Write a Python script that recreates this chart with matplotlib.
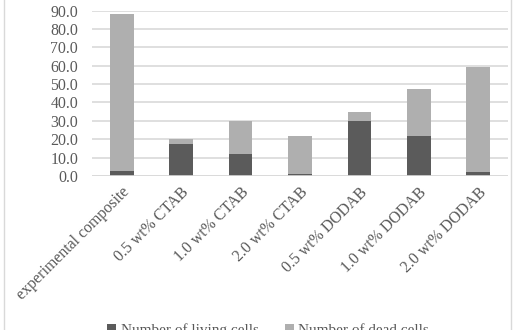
import matplotlib
matplotlib.use("Agg")
import matplotlib.pyplot as plt
import numpy as np
from matplotlib.lines import Line2D

# cell counts per sample
samples = ["experimental composite", "0.5 wt% CTAB", "1.0 wt% CTAB", "2.0 wt% CTAB",
           "0.5 wt% DODAB", "1.0 wt% DODAB", "2.0 wt% DODAB"]
living = [2.8, 17.5, 12.0, 1.0, 30.0, 22.0, 1.9]
dead = [85.6, 2.6, 18.0, 20.5, 5.0, 25.4, 57.6]

dark = "#5b5b5b"
light = "#afafaf"
txt = "#595959"
fs = 11.4

plt.rcParams["font.family"] = ["Liberation Serif", "DejaVu Serif"]

fig = plt.figure(figsize=(5.3, 3.3), dpi=100)
ax = fig.add_axes([0.1736, 0.4667, 0.785, 0.5013])

x = np.arange(len(samples))
ax.bar(x, living, width=0.4, color=dark, label="Number of living cells", zorder=3)
ax.bar(x, dead, width=0.4, bottom=living, color=light, label="Number of dead cells", zorder=3)

ax.set_xlim(-0.5, len(samples) - 0.5)
ax.set_ylim(0, 90)
ax.set_yticks(np.arange(0, 91, 10))
ax.set_yticklabels(["%.1f" % v for v in np.arange(0, 91, 10)], fontsize=fs, color=txt)
ax.set_xticks(x)
ax.set_xticklabels(samples, rotation=45, ha="right", rotation_mode="anchor",
                   fontsize=fs, color=txt)
ax.tick_params(axis="y", length=0, pad=10)
ax.tick_params(axis="x", length=0, pad=6)
ax.yaxis.grid(True, color="#d9d9d9", linewidth=1.2, zorder=0)
for s in ax.spines.values():
    s.set_visible(False)
ax.axhline(0, color="#d9d9d9", linewidth=1.2, zorder=4)

# outer chart frame
fig.add_artist(Line2D([0.008, 0.008], [0, 1], transform=fig.transFigure, color="#d9d9d9", lw=1))
fig.add_artist(Line2D([0.964, 0.964], [0, 1], transform=fig.transFigure, color="#d9d9d9", lw=1))

fig.legend(loc="center", bbox_to_anchor=(0.506, 0.0), ncol=2, frameon=False,
           fontsize=11, labelcolor=txt, handlelength=0.6, handleheight=0.6,
           handletextpad=0.3, columnspacing=1.7)

fig.savefig("out.png", dpi=100)
